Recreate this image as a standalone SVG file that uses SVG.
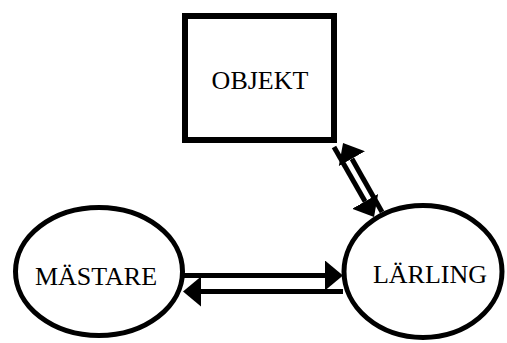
<svg xmlns="http://www.w3.org/2000/svg" width="507" height="343" viewBox="0 0 507 343">
  <style>
    .shape { fill: #fff; stroke: #000; }
    .label { font-family: "Liberation Serif", "Times New Roman", serif; font-size: 26px; fill: #000; text-anchor: middle; }
    .shaft { fill: none; stroke: #000; stroke-width: 5; marker-end: url(#head); }
  </style>
  <defs>
    <marker id="head" markerUnits="userSpaceOnUse" viewBox="0 0 18 30" refX="0" refY="15" markerWidth="18" markerHeight="30" orient="auto">
      <path d="M0,0 L18,15 L0,30 Z" fill="#000"/>
    </marker>
  </defs>
  <rect width="507" height="343" fill="#fff"/>

  <g id="objekt">
    <rect class="shape" x="185" y="16" width="149" height="124" stroke-width="6"/>
    <text class="label" x="260" y="89">OBJEKT</text>
  </g>

  <g id="mastare">
    <ellipse class="shape" cx="99" cy="271.5" rx="83.5" ry="64" stroke-width="5"/>
    <text class="label" x="96" y="285">MÄSTARE</text>
  </g>

  <g id="larling">
    <ellipse class="shape" cx="423" cy="271.5" rx="79" ry="66" stroke-width="5"/>
    <text class="label" x="430" y="283">LÄRLING</text>
  </g>

  <g id="connectors">
    <!-- MÄSTARE to LÄRLING -->
    <path class="shaft" d="M183,275.5 L325,275.5"/>
    <!-- LÄRLING to MÄSTARE -->
    <path class="shaft" d="M343,291.5 L201,291.5"/>
    <!-- OBJEKT to LÄRLING -->
    <path class="shaft" d="M334,147 L365.1,201.4"/>
    <!-- LÄRLING to OBJEKT -->
    <path class="shaft" d="M382,212 L351.9,158.7"/>
  </g>
</svg>
